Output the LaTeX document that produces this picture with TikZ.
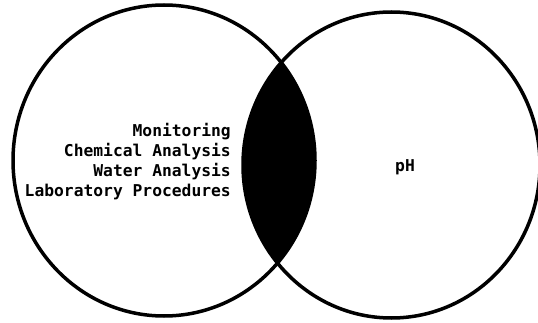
\documentclass[tikz,border=0pt]{standalone}
\usepackage{fontspec}
\newfontfamily\typefont{DejaVu Sans Mono}
\usetikzlibrary{positioning, shapes.geometric}

\begin{document}
\begin{tikzpicture}
        [x=1pt, y=-1pt,
         set/.style={ellipse, draw, line width=3.5pt, inner sep=0pt},
         term/.style={font=\typefont\bfseries\fontsize{16.3}{20}\selectfont, inner sep=0pt}]
        \useasboundingbox (0,0) rectangle (538,323);

        % overlap of the two sets
        \begin{scope}
            \clip (164,160.5) ellipse [x radius=151pt, y radius=155.5pt];
            \fill (391.5,165) ellipse [x radius=148.5pt, y radius=153pt];
        \end{scope}

        \node[set, minimum width=302pt, minimum height=311pt] (chem) at (164,160.5) {};
        \node[set, minimum width=297pt, minimum height=306pt] (ph) at (391.5,165) {};

        \node[term, align=right, anchor=east] (chemterms) at (231,162)
            {Monitoring\\Chemical Analysis\\Water Analysis\\Laboratory Procedures};
        \node[term] (phterm) at (405,167) {pH};
    \end{tikzpicture}
\end{document}
